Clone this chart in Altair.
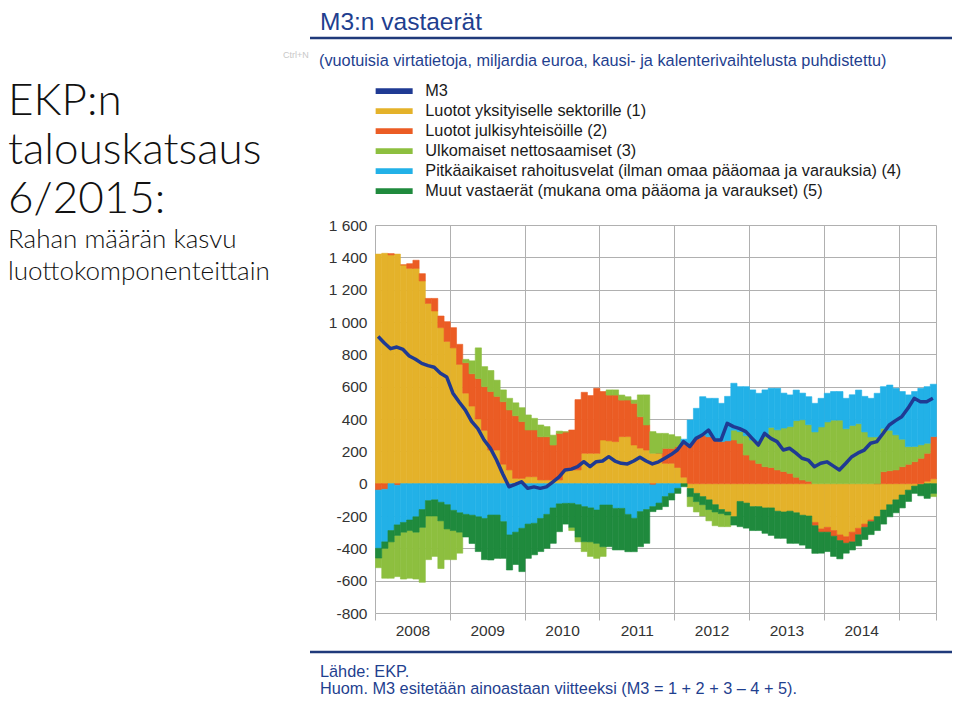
import altair as alt
import pandas as pd

# ---------------- data (annual flows, EUR bn), monthly Jan 2008 .. Jun 2015 ----------------
series_names = [
    "M3",
    "Luotot yksityiselle sektorille (1)",
    "Luotot julkisyhteisöille (2)",
    "Ulkomaiset nettosaamiset (3)",
    "Pitkäaikaiset rahoitusvelat (ilman omaa pääomaa ja varauksia) (4)",
    "Muut vastaerät (mukana oma pääoma ja varaukset) (5)",
]
series_colors = ["#1f3a93", "#e4b22a", "#eb5c24", "#8dbf3f", "#22b1e7", "#1f8a3d"]

yksityinen = [1420, 1425, 1415, 1420, 1353, 1332, 1332, 1254, 1115, 1068, 965, 880, 840, 738, 560, 480, 400, 330,
              208, 208, 120, 85, 33, 33, 43, 43, 23, 23, 23, 23, 85, 85, 85, 188, 188, 188,
              270, 265, 260, 291, 291, 239, 220, 208, 188, 188, 126, 126, 100, 40, -30, -60, -80, -100,
              -130, -160, -175, -204, -110, -120, -142, -142, -150, -150, -170, -175, -170, -180, -195, -200, -240, -280,
              -270, -290, -317, -328, -300, -276, -250, -225, -204, -163, -130, -100, -70, -40, -15, -5, 15, 30]
julkinen = [-40, -35, 8, -10, 0, 29, 50, 45, 31, 78, 72, 122, 125, 124, 188, 200, 250, 270,
            362, 332, 387, 371, 387, 351, 289, 289, 267, 267, 216, 288, 235, 247, 435, 377, 357, 402,
            300, 283, 288, 226, 226, 258, 194, 155, -8, 0, 92, 92, 130, 205, 250, 280, 300, 290,
            280, 260, 265, 270, 250, 177, 146, 125, 105, 100, 85, 75, 64, 40, 23, 15, -20, -20,
            -30, -35, -35, -40, -60, -40, -20, -10, 0, 74, 80, 85, 105, 120, 136, 157, 173, 261]
ulkomaiset = [-60, -185, -225, -255, -290, -295, -290, -340, -270, -250, -295, -190, -180, -130, 21, 80, 190, 124,
              130, 100, 73, 72, 80, 86, 93, 72, 73, 63, 61, 14, 0, -20, -30, -61, -90, -93,
              -60, 32, 32, 31, 21, 20, 135, 186, 134, 123, 93, 85, 61, 0, -62, -64, -70, -70,
              -85, -81, -72, 61, 72, 120, 124, 139, 186, 248, 248, 269, 289, 350, 372, 350, 320, 351,
              382, 393, 393, 340, 360, 371, 320, 289, 289, 268, 250, 217, 170, 109, 94, 83, 62, -20]
pitkaaikaiset = [-360, -325, -290, -245, -240, -225, -205, -160, -105, -100, -115, -130, -165, -180, -190, -195, -205, -215,
                 -194, -194, -235, -317, -300, -276, -250, -245, -215, -190, -150, -125, -122, -122, -130, -142, -150, -163,
                 -132, -132, -153, -153, -190, -214, -173, -160, -134, -120, -80, -60, -29, 30, 144, 186, 238, 238,
                 248, 237, 275, 290, 278, 303, 310, 295, 289, 242, 257, 216, 196, 189, 165, 173, 177, 177,
                 177, 177, 177, 188, 190, 208, 220, 239, 270, 258, 280, 288, 295, 320, 340, 350, 350, 324]
muut = [-60, -40, -70, -65, -60, -65, -95, -110, -95, -100, -115, -150, -125, -120, -140, -175, -215, -255,
        -278, -268, -227, -217, -200, -268, -212, -195, -205, -210, -219, -172, -128, -148, -200, -217, -210, -206,
        -258, -258, -257, -257, -231, -207, -217, -209, -31, -40, -62, -41, -31, -19, -50, -51, -50, -60,
        -45, -25, -19, -52, -156, -155, -148, -148, -157, -170, -168, -163, -199, -189, -185, -200, -171, -130,
        -120, -125, -113, -62, -50, -69, -75, -80, -86, -87, -75, -80, -80, -70, -45, -70, -91, -60]
m3 = [910, 870, 835, 845, 830, 790, 770, 744, 730, 720, 683, 660, 560, 505, 455, 385, 340, 270,
      220, 146, 60, -19, -5, 12, -29, -20, -29, -20, 10, 40, 85, 90, 105, 136, 105, 136,
      140, 167, 140, 126, 122, 140, 163, 140, 122, 135, 157, 180, 208, 260, 229, 280, 301, 332,
      270, 270, 373, 353, 340, 322, 280, 239, 311, 280, 260, 208, 219, 190, 157, 146, 105, 126,
      135, 110, 85, 125, 167, 190, 208, 250, 260, 310, 363, 390, 414, 466, 528, 507, 507, 528]

# stacking order: positives from zero upward, negatives from zero downward
pos_order = [1, 2, 3, 4, 5]
neg_order = [1, 2, 5, 3, 4]

year_labels = ["2008", "2009", "2010", "2011", "2012", "2013", "2014"]
y_ticks = [-800, -600, -400, -200, 0, 200, 400, 600, 800, 1000, 1200, 1400, 1600]

components = [yksityinen, julkinen, ulkomaiset, pitkaaikaiset, muut]
rows = []
for k, vals in enumerate(components):
    for t, v in enumerate(vals):
        rows.append({"t": t, "t2": t + 1, "series": series_names[k + 1], "value": v,
                     "po": pos_order[k], "no": neg_order[k]})
bars_df = pd.DataFrame(rows)
line_df = pd.DataFrame({"tc": [t + 0.5 for t in range(len(m3))], "m3": m3})
one = pd.DataFrame({"a": [0]})

BLUE = "#1f3f8f"
GRID = "#b0b0b0"
AX_FONT = "Liberation Sans"

x_scale = alt.Scale(domain=[0, 90], nice=False, zero=False)
y_scale = alt.Scale(domain=[-800, 1600], nice=False, zero=False)
color_scale = alt.Scale(domain=series_names, range=series_colors)

label_js = "[" + ",".join("'" + s + "'" for s in year_labels) + "]"
x_axis = alt.Axis(
    values=[0, 12, 24, 36, 48, 60, 72, 84, 90], grid=True, gridColor=GRID, gridWidth=1,
    ticks=True, tickSize=7, tickColor=GRID, domain=False, title=None,
    labelExpr=f"datum.value < 84 ? {label_js}[floor(datum.value / 12)] : ''",
    labelOffset=37.4, labelPadding=3, labelFlush=False, labelOverlap=False,
    labelFont=AX_FONT, labelFontSize=15.5, labelColor="#333333",
)
y_axis = alt.Axis(
    values=y_ticks, grid=True, gridColor=GRID, gridWidth=1, ticks=False, domain=False, title=None,
    labelExpr="datum.value >= 1000 ? floor(datum.value / 1000) + ' ' + slice(toString(1000 + datum.value % 1000), 1) : toString(datum.value)",
    labelPadding=8, labelFont=AX_FONT, labelFontSize=15.5, labelColor="#333333", labelOverlap=False,
)

legend = alt.Legend(
    title=None, orient="none", legendX=11, legendY=-142,
    symbolType="M-4,-0.6L4,-0.6L4,0.6L-4,0.6Z", symbolSize=85.6, symbolStrokeWidth=0,
    labelFont=AX_FONT, labelFontSize=16.3, labelColor="#1a1a1a", labelOffset=23,
    rowPadding=3, labelLimit=0, symbolOpacity=1,
)

bars = alt.Chart(bars_df).transform_calculate(
    ord="datum.value >= 0 ? datum.po : datum.no"
).mark_bar(binSpacing=0, strokeWidth=0.6).encode(
    x=alt.X("t:Q", bin=alt.Bin(binned=True, step=1), scale=x_scale, axis=x_axis),
    x2="t2:Q",
    y=alt.Y("value:Q", stack="zero", scale=y_scale, axis=y_axis),
    color=alt.Color("series:N", scale=color_scale, legend=legend),
    stroke=alt.Stroke("series:N", scale=color_scale, legend=None),
    order=alt.Order("ord:Q"),
)

line = alt.Chart(line_df).mark_line(color="#1f3a93", strokeWidth=3.5, strokeJoin="round").encode(
    x=alt.X("tc:Q", scale=x_scale, axis=x_axis),
    y=alt.Y("m3:Q", scale=y_scale, axis=y_axis),
)

def txt(text, x, y, size, color, font=AX_FONT, line_height=None, weight="normal"):
    kw = dict(text=text, align="left", baseline="alphabetic", fontSize=size, color=color,
              font=font, fontWeight=weight)
    if line_height:
        kw["lineHeight"] = line_height
    return alt.Chart(one).mark_text(**kw).encode(x=alt.value(x), y=alt.value(y))

def hrule(y, x1, x2, color, width):
    return alt.Chart(one).mark_rule(color=color, strokeWidth=width).encode(
        x=alt.value(x1), x2=alt.value(x2), y=alt.value(y))

big_title = txt(["EKP:n", "talouskatsaus", "6/2015:"], -367, -110, 44, "#111111", font="Lato", line_height=49, weight=300)
sub_title = txt(["Rahan määrän kasvu", "luottokomponenteittain"], -367, 23, 26, "#111111", font="Lato", line_height=32, weight=300)
chart_title = txt("M3:n vastaerät", -55, -195, 24.5, BLUE)
top_rule = hrule(-187, -65, 577, "#1f3a7a", 2.5)
ctrl = txt("Ctrl+N", -92, -167, 9, "#c8c8c8")
subtitle = txt("(vuotuisia virtatietoja, miljardia euroa, kausi- ja kalenterivaihtelusta puhdistettu)", -56, -159, 16.3, BLUE)
bottom_rule = hrule(427, -65, 577, "#1f3a7a", 2.5)
source = txt("Lähde: EKP.", -55, 452, 16.3, BLUE)
note = txt("Huom. M3 esitetään ainoastaan viitteeksi (M3 = 1 + 2 + 3 – 4 + 5).", -55, 469, 16.3, BLUE)

chart = alt.layer(
    bars, line, big_title, sub_title, chart_title, top_rule, ctrl, subtitle, bottom_rule, source, note
).properties(
    width=561, height=388,
    autosize=alt.AutoSizeParams(type="none"),
    padding={"left": 367, "top": 217, "right": 16, "bottom": 85},
).configure_view(stroke=None)

chart.save("out.html", embed_options={"renderer": "svg", "actions": False})
